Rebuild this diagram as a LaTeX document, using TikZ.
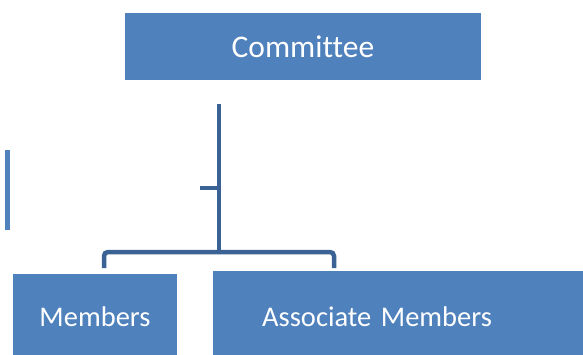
\documentclass[tikz,border=0pt]{standalone}
\usepackage{fontspec}
\setmainfont[Ligatures=NoCommon]{Carlito}
\usepackage{tikz}
\usetikzlibrary{positioning, calc}
\definecolor{boxblue}{RGB}{79,129,189}
\definecolor{lineblue}{RGB}{58,98,148}
\tikzset{
	orgbox/.style={fill=boxblue, text=white, inner sep=0pt, font=\fontsize{28.5}{34}\selectfont}
}
\tikzset{
	orgline/.style={draw=lineblue, line width=4.5pt}
}

\begin{document}
\begin{tikzpicture}[x=1pt, y=1pt]
      \useasboundingbox (0,0) rectangle (583,354);
      \node[orgbox, minimum width=356pt, minimum height=67pt, font=\fontsize{31.5}{36}\selectfont] (committee) at (303,307.5) {Committee};
      \node[orgbox, minimum width=164pt, minimum height=86pt] (members) at (95,37) {Members};
      \node[orgbox, anchor=north west, text width=272pt, align=left, inner xsep=49pt, minimum height=92pt] (associates) at (213,83) {Associate Members};
      % stray bar at the left edge
      \fill[boxblue] (5,124) rectangle (9.5,204);
      \coordinate (trunktop) at (219,250);
      \coordinate (hub) at (219,102);
      \coordinate (tick) at (200,166);
      \coordinate (dropL) at (104,86);
      \coordinate (dropR) at (334,86);
      \draw[orgline] (trunktop) -- (hub);
      \draw[orgline] (tick) -- (tick -| hub);
      \draw[orgline, rounded corners=4pt] (dropL) |- (hub) -| (dropR);
    \end{tikzpicture}
\end{document}
